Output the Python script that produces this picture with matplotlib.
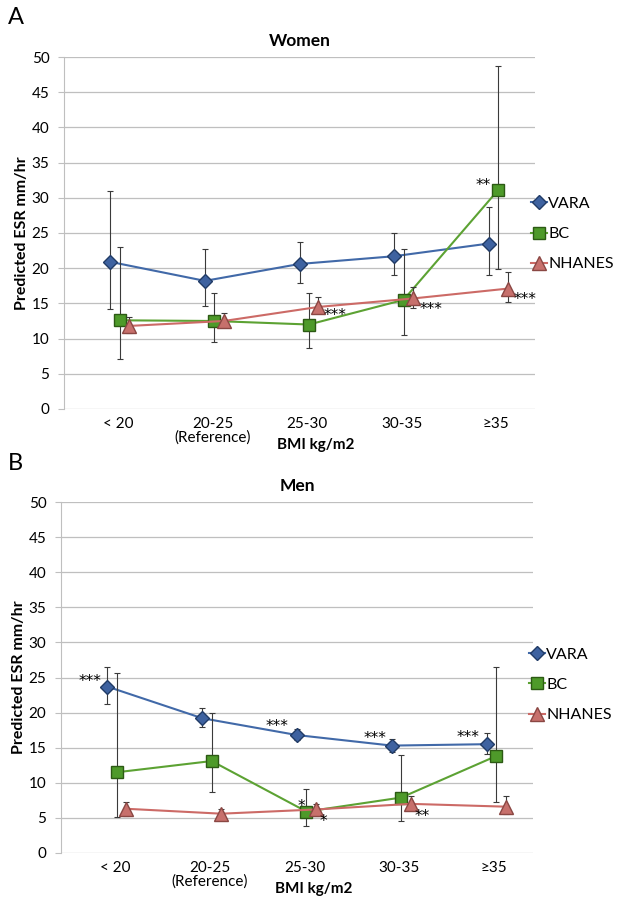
import numpy as np
import matplotlib
matplotlib.use('Agg')
import matplotlib.pyplot as plt

plt.rcParams['font.family'] = ['Lato', 'DejaVu Sans']

categories = ['< 20', '20-25\n(Reference)', '25-30', '30-35', '≥35']
series_names = ['VARA', 'BC', 'NHANES']

# Women: estimate, lower and upper limits
women_vara = [20.9, 18.2, 20.6, 21.7, 23.5]
women_vara_lo = [14.2, 14.7, 17.9, 19.0, 19.1]
women_vara_hi = [30.9, 22.7, 23.7, 25.0, 28.7]
women_bc = [12.6, 12.5, 12.0, 15.5, 31.1]
women_bc_lo = [7.1, 9.5, 8.6, 10.5, 19.9]
women_bc_hi = [23.0, 16.5, 16.5, 22.7, 48.7]
women_nh = [11.8, 12.5, 14.5, 15.7, 17.1]
women_nh_lo = [10.8, 11.6, 13.7, 14.3, 15.2]
women_nh_hi = [13.0, 13.7, 15.9, 17.4, 19.4]

# Men
men_vara = [23.7, 19.2, 16.8, 15.3, 15.5]
men_vara_lo = [21.2, 18.0, 16.1, 14.4, 14.1]
men_vara_hi = [26.5, 20.6, 17.6, 16.3, 17.1]
men_bc = [11.5, 13.1, 5.9, 7.9, 13.8]
men_bc_lo = [5.1, 8.7, 3.8, 4.6, 7.3]
men_bc_hi = [25.6, 19.9, 9.1, 14.0, 26.5]
men_nh = [6.3, 5.6, 6.2, 7.0, 6.6]
men_nh_lo = [5.3, 5.1, 5.3, 6.2, 5.6]
men_nh_hi = [7.3, 6.2, 7.0, 8.1, 8.1]

# significance marks: (series index, category index, text)
women_marks = [(2, 2, '***'), (2, 3, '***'), (2, 4, '***'), (1, 4, '**')]
men_marks = [(0, 0, '***'), (0, 2, '***'), (0, 3, '***'), (0, 4, '***'),
             (1, 2, '*'), (2, 2, '*'), (2, 3, '**')]

styles = [
    dict(color='#4169A8', marker='D', ms=7.5, mfc='#3E62A0', mec='#213B66'),
    dict(color='#5CA233', marker='s', ms=8, mfc='#4E9A2A', mec='#2C5A14'),
    dict(color='#CC6A66', marker='^', ms=9.5, mfc='#C7706C', mec='#8A4743'),
]
offsets = [-0.08, 0.02, 0.12]

# where each mark sits relative to its point (points), and alignment
mark_pos = {
    ('W', 2, 2): (4, -6, 'left'), ('W', 2, 3): (5, -8, 'left'),
    ('W', 2, 4): (4, -8, 'left'), ('W', 1, 4): (-5, 3, 'right'),
    ('M', 0, 0): (-4, 4, 'right'), ('M', 0, 2): (-6, 6, 'right'),
    ('M', 0, 3): (-4, 5, 'right'), ('M', 0, 4): (-5, 5, 'right'),
    ('M', 1, 2): (-4, 4, 'center'), ('M', 2, 2): (5, -9, 'center'),
    ('M', 2, 3): (3, -9, 'left'),
}


def draw_panel(ax, data, marks, key, title, legend_y):
    x = np.arange(len(categories))
    handles = []
    for i, (vals, lo, hi) in enumerate(data):
        vals = np.array(vals)
        xs = x + offsets[i]
        ax.errorbar(xs, vals, yerr=[vals - np.array(lo), np.array(hi) - vals],
                    fmt='none', ecolor='#3a3a3a', elinewidth=0.8, capsize=2.5,
                    capthick=0.8, zorder=3 + 2 * i)
        h, = ax.plot(xs, vals, lw=1.5, label=series_names[i], zorder=4 + 2 * i,
                     **styles[i])
        handles.append(h)
    for s, c, txt in marks:
        dx, dy, ha = mark_pos[(key, s, c)]
        ax.annotate(txt, (c + offsets[s], data[s][0][c]), xytext=(dx, dy),
                    textcoords='offset points', ha=ha, va='center', fontsize=11,
                    family='DejaVu Sans', zorder=10)

    ax.set_xlim(-0.57, 4.41)
    ax.set_ylim(0, 50)
    ax.set_yticks(np.arange(0, 51, 5))
    ax.set_xticks(x)
    ax.set_xticklabels(categories, fontsize=11, linespacing=0.95)
    ax.tick_params(axis='x', length=0, pad=6)
    ax.tick_params(axis='y', length=4.5, color='#BFBFBF', labelsize=11, pad=6)
    ax.yaxis.grid(True, color='#BFBFBF', lw=0.9)
    ax.set_axisbelow(True)
    for sp in ['top', 'right', 'bottom']:
        ax.spines[sp].set_visible(False)
    ax.spines['left'].set_color('#BFBFBF')
    ax.set_title(title, fontsize=12.5, fontweight='bold', pad=8)
    ax.set_ylabel('Predicted ESR mm/hr', fontsize=11.5, fontweight='bold')
    ax.yaxis.set_label_coords(-0.074, 0.5)
    ax.set_xlabel('BMI kg/m2', fontsize=11, fontweight='bold')
    ax.xaxis.set_label_coords(0.535, -0.082)
    ax.legend(handles=handles, loc='center left', bbox_to_anchor=(0.977, legend_y),
              frameon=False, fontsize=11.5, handlelength=1.0, handletextpad=0.1,
              labelspacing=1.0, borderaxespad=0)


fig = plt.figure(figsize=(6.18, 9.01), dpi=100)
ax1 = fig.add_axes([64 / 618, 1 - 409 / 901, 471 / 618, 352 / 901])
ax2 = fig.add_axes([61 / 618, 1 - 853 / 901, 472 / 618, 351 / 901])

draw_panel(ax1, [(women_vara, women_vara_lo, women_vara_hi),
                 (women_bc, women_bc_lo, women_bc_hi),
                 (women_nh, women_nh_lo, women_nh_hi)],
           women_marks, 'W', 'Women', 0.497)
draw_panel(ax2, [(men_vara, men_vara_lo, men_vara_hi),
                 (men_bc, men_bc_lo, men_bc_hi),
                 (men_nh, men_nh_lo, men_nh_hi)],
           men_marks, 'M', 'Men', 0.479)

fig.text(8 / 618, 1 - 18 / 901, 'A', fontsize=17, va='center', ha='left')
fig.text(8 / 618, 1 - 464 / 901, 'B', fontsize=17, va='center', ha='left')

fig.savefig('out.png', dpi=100)
